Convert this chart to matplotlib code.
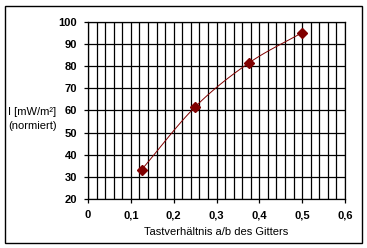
import numpy as np
import matplotlib.pyplot as plt
from matplotlib.patches import Rectangle
from matplotlib.ticker import MultipleLocator, FuncFormatter

plt.rcParams['font.family'] = ['Liberation Sans', 'DejaVu Sans']

# Messwerte
duty = [0.125, 0.25, 0.375, 0.5]
intensity = [33.2, 61.6, 81.4, 95.2]

xlabel = 'Tastverhältnis a/b des Gitters'
ylabel = 'I [mW/m²]\n(normiert)'


def smooth(x, y, n=30):
    # Catmull-Rom, wie die geglaettete Linie in Excel
    x = np.asarray(x, float)
    y = np.asarray(y, float)
    px = np.concatenate([[2 * x[0] - x[1]], x, [2 * x[-1] - x[-2]]])
    py = np.concatenate([[2 * y[0] - y[1]], y, [2 * y[-1] - y[-2]]])
    xs, ys = [], []
    t = np.linspace(0, 1, n)
    for i in range(1, len(px) - 2):
        for p, out in ((px, xs), (py, ys)):
            p0, p1, p2, p3 = p[i - 1], p[i], p[i + 1], p[i + 2]
            out.extend(0.5 * (2 * p1 + (-p0 + p2) * t
                              + (2 * p0 - 5 * p1 + 4 * p2 - p3) * t ** 2
                              + (-p0 + 3 * p1 - 3 * p2 + p3) * t ** 3))
    return xs, ys


fig = plt.figure(figsize=(3.67, 2.48), dpi=100)
ax = fig.add_axes([0.2398, 0.1976, 0.7003, 0.7137])

sx, sy = smooth(duty, intensity)
ax.plot(sx, sy, color='#800000', lw=0.7, zorder=3)
ax.plot(duty, intensity, ls='none', marker='D', ms=5.5, color='#800000', zorder=4)

ax.set_xlim(0, 0.6)
ax.set_ylim(20, 100)
ax.xaxis.set_major_locator(MultipleLocator(0.1))
ax.xaxis.set_minor_locator(MultipleLocator(0.02))
ax.yaxis.set_major_locator(MultipleLocator(10))
ax.xaxis.set_major_formatter(FuncFormatter(lambda v, p: '0' if abs(v) < 1e-9 else ('%.1f' % v).replace('.', ',')))
ax.grid(which='major', axis='y', color='black', lw=0.9)
ax.grid(which='both', axis='x', color='black', lw=0.9)
ax.tick_params(which='minor', length=0)
ax.tick_params(which='major', length=3, width=0.9, labelsize=8, pad=5)
for lab in ax.get_xticklabels() + ax.get_yticklabels():
    lab.set_fontweight('bold')
for s in ax.spines.values():
    s.set_linewidth(0.9)

ax.set_xlabel(xlabel, fontsize=8, labelpad=5)
fig.text(0.022, 0.52, ylabel, fontsize=8, ha='left', va='center', linespacing=1.4)

fig.patches.append(Rectangle((4.5 / 367, 5.5 / 248), 357 / 367, 237 / 248,
                             transform=fig.transFigure, fill=False,
                             edgecolor='black', lw=1))

fig.savefig('out.png', dpi=100)
